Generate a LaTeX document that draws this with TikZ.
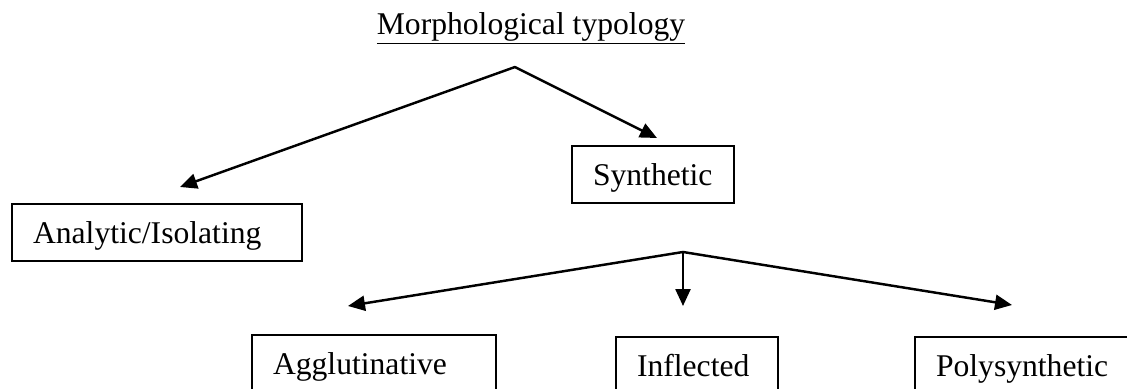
\documentclass[tikz,border=0pt]{standalone}
\usepackage{fontspec}
\setmainfont{Liberation Serif}
\usetikzlibrary{arrows.meta}
\tikzset{
	box/.style={draw,line width=1pt,align=left,inner xsep=0.42cm,inner ysep=0pt,
		minimum height=1.14cm,text height=14pt,text depth=2pt,font=\fontsize{18}{22}\selectfont},
	link/.style={line width=1.4pt,line cap=round,-{Triangle[length=0.34cm,width=0.3cm]}}
}
\begin{document}
\begin{tikzpicture}[x=0.02cm,y=-0.02cm]
	\clip (0,0) rectangle (1127,389);
	
	%TITLE
	\node[anchor=base,inner sep=0pt,font=\fontsize{18}{22}\selectfont] (title) at (531,34) {\underline{Morphological typology}};
	
	%BOXES
	\node[box,text width=4.96cm] (ana) at (157,232.5) {Analytic/Isolating};
	\node[box,text width=2.4cm]  (syn) at (653,174.5) {Synthetic};
	\node[box,text width=4.04cm] (agg) at (374,363.5) {Agglutinative};
	\node[box,text width=2.4cm]  (inf) at (697,365.5) {Inflected};
	\node[box,text width=3.76cm] (pol) at (1030,365.5) {Polysynthetic};
	
	%BRANCH POINTS
	\coordinate (top) at (515,67);
	\coordinate (mid) at (683,252);
	%arrow ends, just short of the boxes
	\coordinate (anaTip) at (180,187);
	\coordinate (synTip) at (657,138);
	\coordinate (aggTip) at (348,306);
	\coordinate (infTip) at (683,306);
	\coordinate (polTip) at (1012,305);
	
	%ARROWS
	\draw[link] (top) -- (anaTip);
	\draw[link] (top) -- (synTip);
	\draw[link] (mid) -- (aggTip);
	\draw[link] (mid) -- (infTip);
	\draw[link] (mid) -- (polTip);
\end{tikzpicture}
\end{document}
